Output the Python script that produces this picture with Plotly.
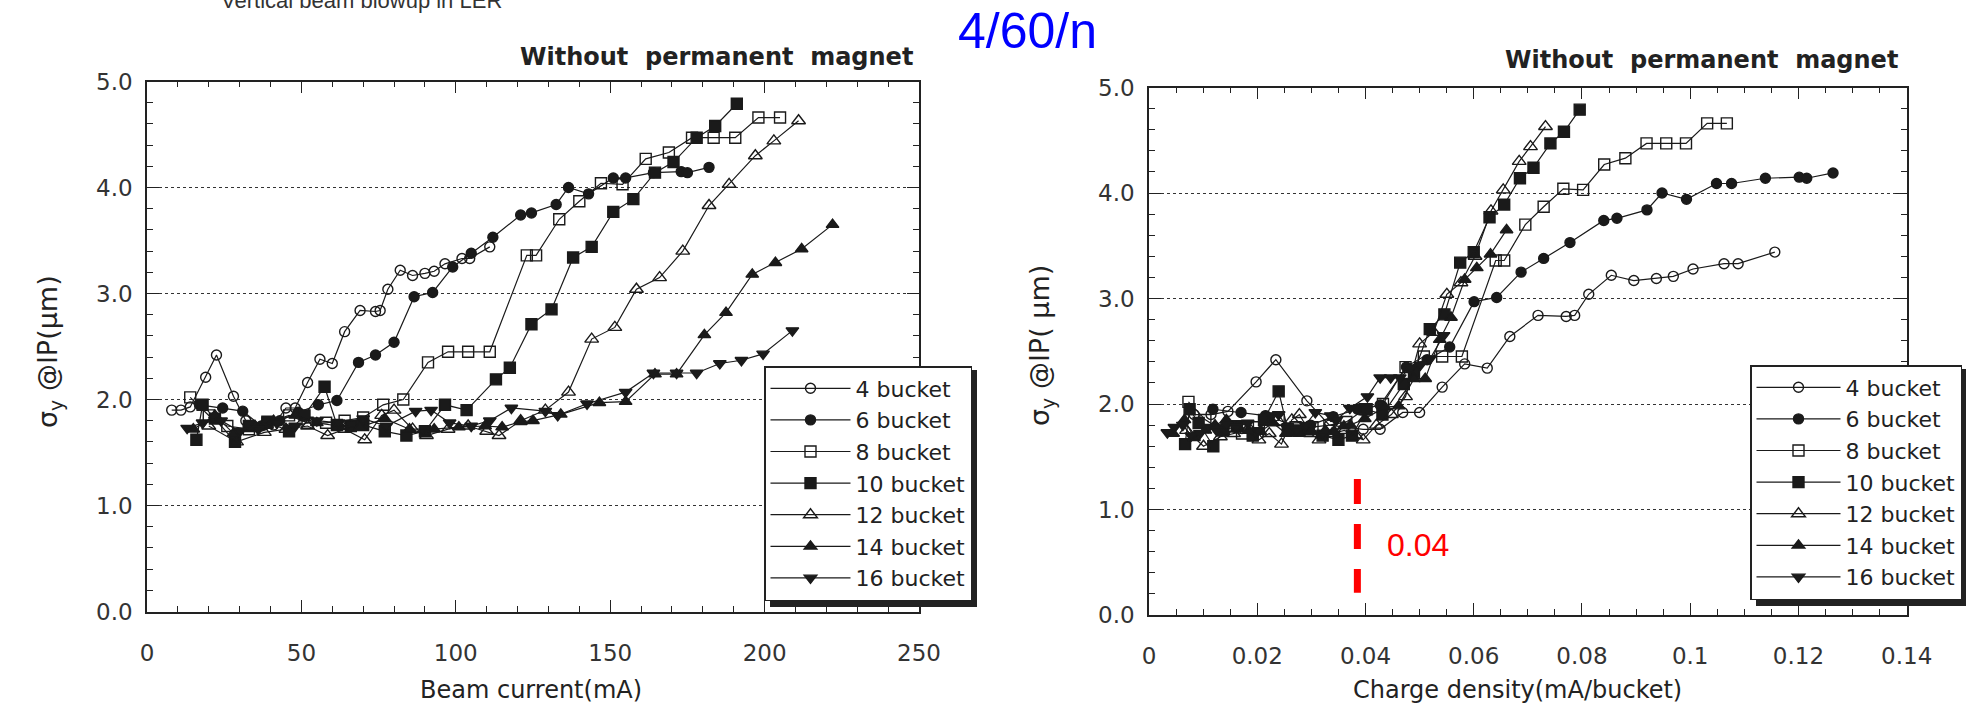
import plotly.graph_objects as go

W, H = 1982, 706

# ---------------- data ----------------
series_names = ["4 bucket", "6 bucket", "8 bucket", "10 bucket", "12 bucket", "14 bucket", "16 bucket"]

# Beam current (mA) -- left panel
cur_4 = [8, 11, 14, 19, 22.5, 28, 32, 38, 41, 45, 48, 52, 56, 60, 64, 69, 74, 75.5, 78, 82, 86, 90, 93, 96.5, 102, 104.5, 111]
sig_4 = [1.9, 1.9, 1.93, 2.21, 2.42, 2.03, 1.8, 1.76, 1.76, 1.92, 1.92, 2.16, 2.38, 2.34, 2.64, 2.84, 2.83, 2.84, 3.04, 3.22, 3.17, 3.19, 3.21, 3.28, 3.33, 3.33, 3.44]

cur_6 = [17, 24.5, 31, 37, 43, 49, 55.5, 61.5, 68.5, 74, 80, 86.5, 92.5, 99, 105, 112, 121, 124.5, 132.5, 136.5, 143, 151, 155, 164, 173, 175, 182]
sig_6 = [1.95, 1.92, 1.89, 1.75, 1.8, 1.88, 1.95, 1.99, 2.35, 2.42, 2.54, 2.97, 3.01, 3.25, 3.38, 3.53, 3.74, 3.76, 3.84, 4.0, 3.94, 4.09, 4.09, 4.14, 4.15, 4.14, 4.19]

cur_8 = [14, 20, 26, 33, 39, 46, 52, 58, 64, 70, 76.5, 83, 91, 97.5, 104, 111, 123, 126, 133.5, 140, 147, 154, 161.5, 169, 176.5, 183.5, 190.5, 198, 205]
sig_8 = [2.02, 1.85, 1.75, 1.72, 1.78, 1.85, 1.78, 1.78, 1.8, 1.83, 1.95, 2.0, 2.35, 2.45, 2.45, 2.45, 3.36, 3.36, 3.7, 3.87, 4.04, 4.03, 4.27, 4.33, 4.47, 4.47, 4.47, 4.66, 4.66]

cur_10 = [16, 18, 22, 28.5, 33, 39, 46, 51, 57.5, 61.5, 66, 70, 77, 84, 90, 96.5, 103.5, 113, 117.5, 124.5, 131, 138, 144, 151, 157.5, 164.5, 170.5, 178, 184, 191]
sig_10 = [1.62, 1.95, 1.82, 1.6, 1.75, 1.79, 1.7, 1.85, 2.12, 1.76, 1.75, 1.76, 1.7, 1.66, 1.7, 1.95, 1.9, 2.19, 2.3, 2.71, 2.85, 3.34, 3.44, 3.77, 3.89, 4.14, 4.24, 4.47, 4.58, 4.79]

cur_12 = [20, 29, 38, 45, 52, 58.5, 64, 70.5, 76, 80, 86, 90.5, 97.5, 104, 110, 114, 121, 129, 136.5, 144, 151.5, 158.5, 166, 173.5, 182, 188.5, 197, 203, 211]
sig_12 = [1.75, 1.6, 1.69, 1.72, 1.75, 1.66, 1.72, 1.62, 1.85, 1.9, 1.72, 1.66, 1.72, 1.75, 1.7, 1.66, 1.8, 1.9, 2.07, 2.57, 2.68, 3.04, 3.15, 3.4, 3.83, 4.03, 4.3, 4.44, 4.63]

cur_14 = [15, 22, 28, 35, 41, 48, 55, 62, 69, 77, 85, 93, 101, 109.5, 115, 121, 125, 134, 146.5, 155, 164.5, 171.5, 180.5, 187.5, 196, 203.5, 212, 222]
sig_14 = [1.72, 1.85, 1.68, 1.75, 1.8, 1.85, 1.78, 1.75, 1.74, 1.82, 1.72, 1.72, 1.74, 1.75, 1.74, 1.79, 1.8, 1.86, 1.97, 1.98, 2.24, 2.24, 2.61, 2.82, 3.18, 3.29, 3.42, 3.65]

cur_16 = [13, 18, 24, 30, 36, 42, 48, 55, 62, 70, 77.5, 87, 92, 98, 105, 111, 118, 129, 133, 142.5, 155, 164, 171.5, 178, 185.5, 192.5, 199.5, 209]
sig_16 = [1.73, 1.78, 1.8, 1.7, 1.72, 1.78, 1.75, 1.8, 1.78, 1.82, 1.75, 1.89, 1.9, 1.78, 1.75, 1.8, 1.92, 1.89, 1.85, 1.96, 2.07, 2.25, 2.25, 2.25, 2.34, 2.37, 2.43, 2.65]

# Charge density (mA/bucket) -- right panel
den_4 = [0.00833, 0.01146, 0.01458, 0.01979, 0.02344, 0.02917, 0.03333, 0.03958, 0.04271, 0.04688, 0.05, 0.05417, 0.05833, 0.0625, 0.06667, 0.07188, 0.07708, 0.07865, 0.08125, 0.08542, 0.08958, 0.09375, 0.09688, 0.10052, 0.10625, 0.10885, 0.11563]
den_6 = [0.01181, 0.01701, 0.02153, 0.02569, 0.02986, 0.03403, 0.03854, 0.04271, 0.04757, 0.05139, 0.05556, 0.06007, 0.06424, 0.06875, 0.07292, 0.07778, 0.08403, 0.08646, 0.09201, 0.09479, 0.09931, 0.10486, 0.10764, 0.11389, 0.12014, 0.12153, 0.12639]
den_8 = [0.00729, 0.01042, 0.01354, 0.01719, 0.02031, 0.02396, 0.02708, 0.03021, 0.03333, 0.03646, 0.03984, 0.04323, 0.0474, 0.05078, 0.05417, 0.05781, 0.06406, 0.06563, 0.06953, 0.07292, 0.07656, 0.08021, 0.08411, 0.08802, 0.09193, 0.09557, 0.09922, 0.10313, 0.10677]
den_10 = [0.00667, 0.0075, 0.00917, 0.01188, 0.01375, 0.01625, 0.01917, 0.02125, 0.02396, 0.02563, 0.0275, 0.02917, 0.03208, 0.035, 0.0375, 0.04021, 0.04313, 0.04708, 0.04896, 0.05188, 0.05458, 0.0575, 0.06, 0.06292, 0.06563, 0.06854, 0.07104, 0.07417, 0.07667, 0.07958]
den_12 = [0.00694, 0.01007, 0.01319, 0.01563, 0.01806, 0.02031, 0.02222, 0.02448, 0.02639, 0.02778, 0.02986, 0.03142, 0.03385, 0.03611, 0.03819, 0.03958, 0.04201, 0.04479, 0.0474, 0.05, 0.0526, 0.05503, 0.05764, 0.06024, 0.06319, 0.06545, 0.0684, 0.07049, 0.07326]
den_14 = [0.00446, 0.00655, 0.00833, 0.01042, 0.0122, 0.01429, 0.01637, 0.01845, 0.02054, 0.02292, 0.0253, 0.02768, 0.03006, 0.03259, 0.03423, 0.03601, 0.0372, 0.03988, 0.0436, 0.04613, 0.04896, 0.05104, 0.05372, 0.0558, 0.05833, 0.06057, 0.0631, 0.06607]
den_16 = [0.00339, 0.00469, 0.00625, 0.00781, 0.00938, 0.01094, 0.0125, 0.01432, 0.01615, 0.01823, 0.02018, 0.02266, 0.02396, 0.02552, 0.02734, 0.02891, 0.03073, 0.03359, 0.03464, 0.03711, 0.04036, 0.04271, 0.04466, 0.04635, 0.04831, 0.05013, 0.05195, 0.05443]

threshold_density = 0.0385
threshold_label = "0.04"

# ---------------- figure ----------------
def px_x(p):
    return p / W

def px_y(p):
    return 1 - p / H

symbols = ["circle-open", "circle", "square-open", "square", "triangle-up-open", "triangle-up", "triangle-down"]
sizes = [10, 10, 11, 11, 12, 11, 11]
left_x = [cur_4, cur_6, cur_8, cur_10, cur_12, cur_14, cur_16]
left_y = [sig_4, sig_6, sig_8, sig_10, sig_12, sig_14, sig_16]
right_x = [den_4, den_6, den_8, den_10, den_12, den_14, den_16]

INK = "#1a1a1a"
fig = go.Figure()
for i, name in enumerate(series_names):
    mk = dict(symbol=symbols[i], size=sizes[i], color=INK, line=dict(color=INK, width=1.4))
    fig.add_trace(go.Scatter(x=left_x[i], y=left_y[i], mode="lines+markers", name=name,
                             line=dict(color=INK, width=1.2), marker=mk,
                             xaxis="x", yaxis="y", legend="legend"))
for i, name in enumerate(series_names):
    mk = dict(symbol=symbols[i], size=sizes[i], color=INK, line=dict(color=INK, width=1.4))
    fig.add_trace(go.Scatter(x=right_x[i], y=left_y[i], mode="lines+markers", name=name,
                             line=dict(color=INK, width=1.2), marker=mk,
                             xaxis="x2", yaxis="y2", legend="legend2"))

TICKFONT = dict(family="DejaVu Sans", size=23, color="#333")
axis_common = dict(showline=True, linecolor="#222", linewidth=1.5, mirror="ticks",
                   ticks="inside", ticklen=12, tickwidth=1.2, tickcolor="#222",
                   tickfont=TICKFONT, zeroline=False, automargin=False)
LEGFONT = dict(family="DejaVu Sans", size=22, color="#222")

fig.update_layout(
    width=W, height=H,
    margin=dict(l=0, r=0, t=0, b=0),
    paper_bgcolor="white", plot_bgcolor="white",
    showlegend=True,
    xaxis=dict(domain=[px_x(147), px_x(919)], range=[0, 250], dtick=50, tick0=0,
               showgrid=False, anchor="y", ticklabelstandoff=20,
               minor=dict(dtick=10, ticks="inside", ticklen=6, tickwidth=1, tickcolor="#222", showgrid=False),
               **axis_common),
    yaxis=dict(domain=[px_y(611.5), px_y(81.5)], range=[0, 5], dtick=1, tick0=0, tickformat=".1f",
               showgrid=True, gridcolor="#333", griddash="dot", gridwidth=1.3, anchor="x",
               ticklabelstandoff=8,
               minor=dict(dtick=0.2, ticks="inside", ticklen=6, tickwidth=1, tickcolor="#222", showgrid=False),
               **axis_common),
    xaxis2=dict(domain=[px_x(1149), px_x(1906.7)], range=[0, 0.14], dtick=0.02, tick0=0,
                showgrid=False, anchor="y2", ticklabelstandoff=20,
                minor=dict(dtick=0.005, ticks="inside", ticklen=6, tickwidth=1, tickcolor="#222", showgrid=False),
                **axis_common),
    yaxis2=dict(domain=[px_y(615), px_y(87.5)], range=[0, 5], dtick=1, tick0=0, tickformat=".1f",
                showgrid=True, gridcolor="#333", griddash="dot", gridwidth=1.3, anchor="x2",
                ticklabelstandoff=8,
                minor=dict(dtick=0.2, ticks="inside", ticklen=6, tickwidth=1, tickcolor="#222", showgrid=False),
                **axis_common),
    legend=dict(x=px_x(764), y=px_y(366), xanchor="left", yanchor="top", bgcolor="white",
                bordercolor="#222", borderwidth=1.5, itemwidth=80, tracegroupgap=0, font=LEGFONT),
    legend2=dict(x=px_x(1750), y=px_y(365), xanchor="left", yanchor="top", bgcolor="white",
                 bordercolor="#222", borderwidth=1.5, itemwidth=84, tracegroupgap=0, font=LEGFONT),
)

# legend drop shadows (sit behind the legend boxes)
for (x0, y0, x1, y1) in [(770, 370, 977, 607), (1756, 369, 1966, 606)]:
    fig.add_shape(type="rect", xref="paper", yref="paper", x0=px_x(x0), x1=px_x(x1),
                  y0=px_y(y1), y1=px_y(y0), fillcolor="#222", line=dict(width=0), layer="above")

# threshold marker on the right panel
fig.add_shape(type="line", xref="x2", yref="y2", x0=threshold_density, x1=threshold_density,
              y0=1.29, y1=0.21, line=dict(color="#ff0000", width=7, dash="25px,20px"))

TXT = "#222"
TITLE = "<b>Without\u00a0 permanent\u00a0 magnet</b>"
ann = [
    dict(text="Vertical beam blowup in LER", x=px_x(219), y=px_y(15), xanchor="left", yanchor="bottom",
         font=dict(family="Liberation Sans", size=22, color="#333")),
    dict(text="4/60/n", x=px_x(1027), y=px_y(31), xanchor="center", yanchor="middle",
         font=dict(family="Liberation Sans", size=50, color="#0000ff")),
    dict(text=TITLE, x=px_x(915), y=px_y(57), xanchor="right", yanchor="middle",
         font=dict(family="DejaVu Sans", size=24, color=TXT)),
    dict(text=TITLE, x=px_x(1900), y=px_y(60), xanchor="right", yanchor="middle",
         font=dict(family="DejaVu Sans", size=24, color=TXT)),
    dict(text="Beam current(mA)", x=px_x(531), y=px_y(690), xanchor="center", yanchor="middle",
         font=dict(family="DejaVu Sans", size=24, color=TXT)),
    dict(text="Charge density(mA/bucket)", x=px_x(1517), y=px_y(690), xanchor="center", yanchor="middle",
         font=dict(family="DejaVu Sans", size=24, color=TXT)),
    dict(text="σ<sub>y</sub> @IP(μm)", x=px_x(50), y=px_y(352), xanchor="center", yanchor="middle",
         textangle=-90, font=dict(family="DejaVu Sans", size=27, color=TXT)),
    dict(text="σ<sub>y</sub> @IP( μm)", x=px_x(1041), y=px_y(346), xanchor="center", yanchor="middle",
         textangle=-90, font=dict(family="DejaVu Sans", size=27, color=TXT)),
    dict(text=threshold_label, x=px_x(1418), y=px_y(545), xanchor="center", yanchor="middle",
         font=dict(family="Liberation Sans", size=32, color="#ff0000")),
]
for a in ann:
    fig.add_annotation(xref="paper", yref="paper", showarrow=False, **a)

fig.write_html("out.html")
